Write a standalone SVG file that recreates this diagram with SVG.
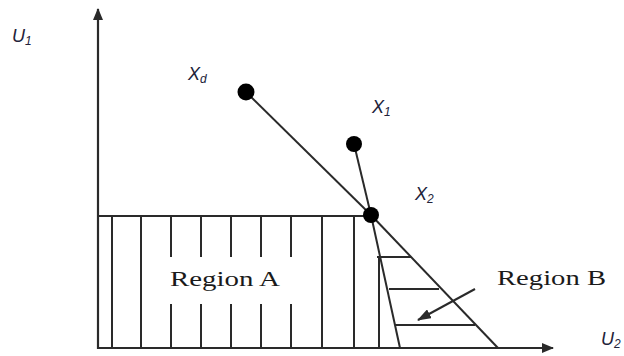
<svg xmlns="http://www.w3.org/2000/svg" width="624" height="356" viewBox="0 0 624 356">
<defs>
<style>
.ln{stroke:#2a2a2a;stroke-width:2;fill:none}
.ax{stroke:#2a2a2a;stroke-width:2.2;fill:none}
.dot{fill:#000}
.lbl{font-family:"Liberation Sans",Arial,sans-serif;font-style:italic;font-size:18px;fill:#22223a}
.sub{font-size:12px}
.reg{font-family:"Liberation Serif","Times New Roman",serif;font-size:22px;fill:#1a1a1a}
</style>
<marker id="ah" markerWidth="12" markerHeight="10" refX="11" refY="5" orient="auto" markerUnits="userSpaceOnUse">
<path d="M0,0 L12,5 L0,10 Z" fill="#2a2a2a"/>
</marker>
<marker id="ah2" markerWidth="14" markerHeight="10" refX="13" refY="5" orient="auto" markerUnits="userSpaceOnUse">
<path d="M0,0 L14,5 L0,10 Z" fill="#2a2a2a"/>
</marker>
</defs>
<rect width="624" height="356" fill="#fff"/>
<g id="axes">
<line class="ax" x1="98" y1="349" x2="98" y2="9" marker-end="url(#ah)"/>
<line class="ax" x1="97" y1="348" x2="553" y2="348" marker-end="url(#ah)"/>
</g>
<g id="regionA-hatch">
<line class="ln" x1="98" y1="216" x2="371" y2="216"/>
<line class="ln" x1="112" y1="216" x2="112" y2="348"/>
<line class="ln" x1="141" y1="216" x2="141" y2="348"/>
<line class="ln" x1="171" y1="216" x2="171" y2="257"/>
<line class="ln" x1="171" y1="304" x2="171" y2="348"/>
<line class="ln" x1="201" y1="216" x2="201" y2="257"/>
<line class="ln" x1="201" y1="304" x2="201" y2="348"/>
<line class="ln" x1="231" y1="216" x2="231" y2="257"/>
<line class="ln" x1="231" y1="304" x2="231" y2="348"/>
<line class="ln" x1="261" y1="216" x2="261" y2="257"/>
<line class="ln" x1="261" y1="304" x2="261" y2="348"/>
<line class="ln" x1="291" y1="216" x2="291" y2="257"/>
<line class="ln" x1="291" y1="304" x2="291" y2="348"/>
<line class="ln" x1="322" y1="216" x2="322" y2="348"/>
<line class="ln" x1="354" y1="216" x2="354" y2="348"/>
<line class="ln" x1="379" y1="257" x2="379" y2="348"/>
</g>
<g id="regionB-hatch">
<line class="ln" x1="377" y1="257" x2="411" y2="257"/>
<line class="ln" x1="389" y1="289" x2="439" y2="289"/>
<line class="ln" x1="395" y1="325" x2="475" y2="325"/>
</g>
<g id="connectors">
<line class="ln" x1="246" y1="92" x2="371" y2="215"/>
<line class="ln" x1="371" y1="215" x2="498" y2="348"/>
<line class="ln" x1="354" y1="144" x2="371" y2="215"/>
<line class="ln" x1="371" y1="215" x2="400" y2="348"/>
<line class="ln" x1="475" y1="289" x2="418" y2="320" marker-end="url(#ah2)"/>
</g>
<g id="Xd"><circle class="dot" cx="246" cy="92" r="8.5"/><text class="lbl" x="188" y="80">X<tspan class="sub" dy="3">d</tspan></text></g>
<g id="X1"><circle class="dot" cx="354" cy="144" r="8"/><text class="lbl" x="372" y="113">X<tspan class="sub" dy="3">1</tspan></text></g>
<g id="X2"><circle class="dot" cx="371" cy="215" r="8"/><text class="lbl" x="415" y="200">X<tspan class="sub" dy="3">2</tspan></text></g>
<g id="U1"><text class="lbl" x="12" y="42">U<tspan class="sub" dy="3">1</tspan></text></g>
<g id="U2"><text class="lbl" x="601" y="345">U<tspan class="sub" dy="3">2</tspan></text></g>
<g id="regionA"><text class="reg" x="170" y="286" textLength="110" lengthAdjust="spacingAndGlyphs">Region A</text></g>
<g id="regionB"><text class="reg" x="497" y="285" textLength="109" lengthAdjust="spacingAndGlyphs">Region B</text></g>
</svg>
